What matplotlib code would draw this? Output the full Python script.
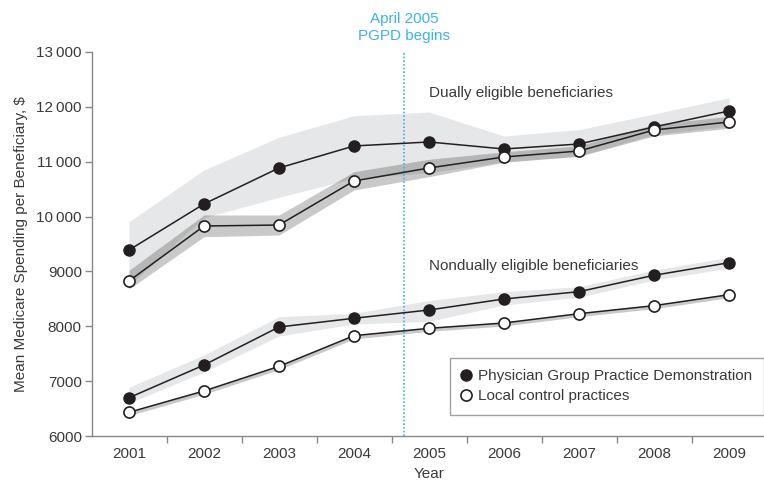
import matplotlib
matplotlib.use("Agg")
import matplotlib.pyplot as plt
from matplotlib.ticker import FixedLocator, FuncFormatter

plt.rcParams['font.family'] = ['Liberation Sans', 'DejaVu Sans']

years = [2001, 2002, 2003, 2004, 2005, 2006, 2007, 2008, 2009]

# dually eligible
dual_pgpd = [9390, 10230, 10886, 11287, 11360, 11232, 11323, 11633, 11925]
dual_pgpd_lo = [8750, 9980, 10350, 10700, 10800, 11000, 11100, 11500, 11650]
dual_pgpd_hi = [9907, 10849, 11445, 11839, 11905, 11469, 11585, 11870, 12167]
dual_ctrl = [8826, 9828, 9846, 10649, 10886, 11086, 11195, 11578, 11724]
dual_ctrl_lo = [8680, 9633, 9664, 10484, 10727, 10990, 11100, 11470, 11610]
dual_ctrl_hi = [9020, 10029, 10029, 10818, 11044, 11180, 11290, 11680, 11830]

# nondually eligible
non_pgpd = [6698, 7294, 7987, 8146, 8297, 8498, 8631, 8930, 9159]
non_pgpd_lo = [6600, 7166, 7823, 8042, 8090, 8388, 8529, 8844, 9058]
non_pgpd_hi = [6888, 7477, 8175, 8237, 8470, 8631, 8722, 9026, 9258]
non_ctrl = [6432, 6821, 7270, 7829, 7963, 8060, 8230, 8376, 8576]
non_ctrl_lo = [6372, 6761, 7210, 7769, 7908, 8005, 8175, 8321, 8521]
non_ctrl_hi = [6447, 6836, 7285, 7844, 7978, 8075, 8245, 8391, 8591]

yticks = [6000, 7000, 8000, 9000, 10000, 11000, 12000, 13000]

txt = '#3a3a3a'
light = '#e6e7e8'
blue = '#3cb4e6'
fs = 11

fig = plt.figure(figsize=(7.64, 4.83), dpi=100)
ax = fig.add_axes([91.5 / 764, 47 / 483, 675 / 764, 384 / 483])

# confidence bands
ax.fill_between(years, dual_pgpd_lo, dual_pgpd_hi, color=light, lw=0, zorder=1)
ax.fill_between(years, dual_ctrl_lo, dual_ctrl_hi, color='black', alpha=0.21, lw=0, zorder=2)
ax.fill_between(years, non_pgpd_lo, non_pgpd_hi, color=light, lw=0, zorder=1)
ax.fill_between(years, non_ctrl_lo, non_ctrl_hi, color='black', alpha=0.21, lw=0, zorder=2)

# start of demonstration
ax.axvline(2004.67, color=blue, lw=1.2, ls=(0, (1, 1.2)), zorder=3)

for vals in (dual_pgpd, non_pgpd):
    ax.plot(years, vals, color='#231f20', lw=1.1, marker='o', ms=8,
            mfc='#231f20', mec='#231f20', mew=1, zorder=5)
for vals in (dual_ctrl, non_ctrl):
    ax.plot(years, vals, color='#231f20', lw=1.1, marker='o', ms=8,
            mfc='white', mec='#231f20', mew=1.2, zorder=5)

ax.set_xlim(2000.5, 2009.5)
ax.set_ylim(6000, 13000)

ax.xaxis.set_major_locator(FixedLocator(years))
ax.xaxis.set_minor_locator(FixedLocator([y + 0.5 for y in years[:-1]]))
ax.tick_params(axis='x', which='major', length=0, pad=8, labelsize=fs, labelcolor=txt)
ax.tick_params(axis='x', which='minor', length=5, width=1, color='#888888', direction='out')

ax.yaxis.set_major_locator(FixedLocator(yticks))
ax.yaxis.set_major_formatter(FuncFormatter(
    lambda v, p: f"{int(v) // 1000}\u2009000" if v >= 10000 else f"{int(v)}"))
ax.tick_params(axis='y', length=5, width=1, color='#888888', labelsize=fs,
               labelcolor=txt, pad=2)

for s in ('top', 'right'):
    ax.spines[s].set_visible(False)
for s in ('left', 'bottom'):
    ax.spines[s].set_color('#888888')
    ax.spines[s].set_linewidth(1)

ax.set_xlabel('Year', fontsize=fs, color=txt, labelpad=4)
ax.set_ylabel('Mean Medicare Spending per Beneficiary, $', fontsize=fs,
              color=txt, labelpad=6)

ax.text(2005.0, 12260, 'Dually eligible beneficiaries', fontsize=fs, color=txt,
        ha='left', va='center')
ax.text(2005.0, 9100, 'Nondually eligible beneficiaries', fontsize=fs, color=txt,
        ha='left', va='center')
ax.text(2004.67, 13170, 'April 2005\nPGPD begins', fontsize=fs, color=blue,
        ha='center', va='bottom', linespacing=1.2, clip_on=False)

h1, = ax.plot([], [], ls='none', marker='o', ms=8, mfc='#231f20', mec='#231f20')
h2, = ax.plot([], [], ls='none', marker='o', ms=8, mfc='white', mec='#231f20', mew=1.2)
leg = ax.legend([h1, h2], ['Physician Group Practice Demonstration',
                           'Local control practices'],
                loc='lower left', bbox_to_anchor=(0.531, 0.055), borderaxespad=0,
                fontsize=fs, frameon=True, fancybox=False, handlelength=0.6,
                handletextpad=0.5, borderpad=0.75, labelspacing=0.4)
leg.get_frame().set_edgecolor('#888888')
leg.get_frame().set_linewidth(1)
for t in leg.get_texts():
    t.set_color(txt)

fig.savefig('out.png', dpi=100)
